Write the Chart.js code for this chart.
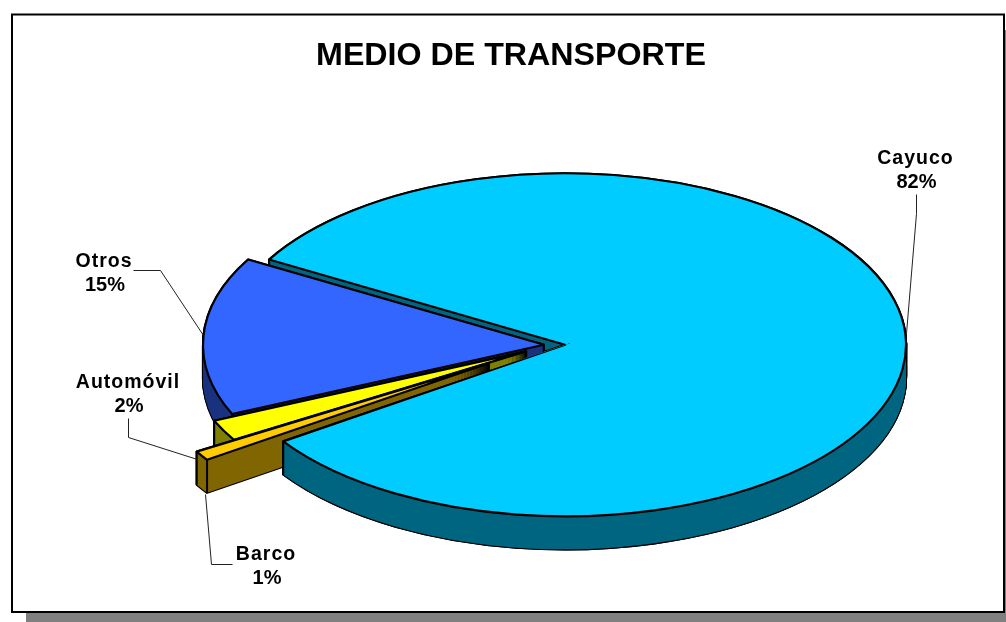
<!DOCTYPE html>
<html><head><meta charset="utf-8">
<style>html,body{margin:0;padding:0;background:#fff;overflow:hidden}canvas{display:block}</style>
<script src="https://cdn.jsdelivr.net/npm/chart.js@4/dist/chart.umd.js"></script>
</head><body><canvas id="c" width="1006" height="622"></canvas>
<script>
const categories = ['Cayuco', 'Barco', 'Automóvil', 'Otros'];
const values = [82.2, 0.9, 2.0, 14.9];
const topColors = ['#00CCFF', '#FFCC00', '#FFFF00', '#3366FF'];
const wallColors = ['#006680', '#806600', '#808000', '#1A3380'];
const explode = [10.5, 78, 32, 10.5];
const lift = [0, -3, -1, 0];
const drawOrder = [0, 3, 2, 1];
const labelBoxes = [
  {x: 915.5, y: 157, line: [[916,194],[916,213],[906,333]]},
  {x: 266, y: 553, line: [[232,564],[211,564],[205,494]]},
  {x: 128, y: 381, line: [[128,418],[128,437],[197,459]]},
  {x: 104, y: 260, line: [[133,270],[160,270],[203,335]]}
];
const PIE = {cx: 554.5, cy: 345, ratio: 0.503, depth: 33, radius: 341};

const pie3d = {
  id: 'pie3d',
  beforeDraw(chart) {
    const c = chart.ctx;
    c.save();
    c.fillStyle = '#808080';
    c.fillRect(26, 30, 980, 592);
    c.fillStyle = '#fff';
    c.fillRect(11, 14, 993, 598);
    c.strokeStyle = '#000';
    c.lineWidth = 2;
    c.strokeRect(12, 14.5, 992, 597.5);
    c.restore();
  },
  beforeDatasetsDraw(chart) {
    const c = chart.ctx, arcs = chart.getDatasetMeta(0).data;
    const geom = i => {
      const a = arcs[i], mid = (a.startAngle + a.endAngle) / 2;
      return {a,
        ax: PIE.cx + explode[i] * Math.cos(mid),
        ay: PIE.cy + lift[i] + explode[i] * Math.sin(mid) * PIE.ratio};
    };
    const path = (g, dy) => {
      c.beginPath();
      c.moveTo(g.ax, g.ay + dy);
      c.ellipse(g.ax, g.ay + dy, g.a.outerRadius, g.a.outerRadius * PIE.ratio, 0, g.a.startAngle, g.a.endAngle);
      c.closePath();
    };
    const fill = (g, dy, color) => {
      const saved = g.a.options;
      g.a.options = {backgroundColor: color, borderColor: color, borderWidth: 0, borderAlign: 'center',
        borderRadius: 0, borderJoinStyle: 'round', offset: 0, spacing: 0, circular: true};
      c.save();
      c.translate(g.ax, g.ay + dy);
      c.scale(1, PIE.ratio);
      c.translate(-g.a.x, -g.a.y);
      g.a.draw(c);
      c.restore();
      g.a.options = saved;
    };
    const slice = i => {
      const g = geom(i), R = g.a.outerRadius;
      c.strokeStyle = '#000';
      c.lineWidth = 2.2;
      c.lineJoin = 'round';
      for (let dy = PIE.depth; dy >= 0; dy--) { path(g, dy); c.stroke(); }
      for (let dy = PIE.depth; dy >= 1; dy--) fill(g, dy, wallColors[i]);
      const pts = [[g.ax, g.ay],
        [g.ax + R * Math.cos(g.a.startAngle), g.ay + R * PIE.ratio * Math.sin(g.a.startAngle)],
        [g.ax + R * Math.cos(g.a.endAngle), g.ay + R * PIE.ratio * Math.sin(g.a.endAngle)]];
      c.lineWidth = 2;
      pts.forEach(p => { c.beginPath(); c.moveTo(p[0], p[1]); c.lineTo(p[0], p[1] + PIE.depth); c.stroke(); });
      fill(g, 0, topColors[i]);
      c.lineWidth = 2.2;
      path(g, 0); c.stroke();
      return pts;
    };
    c.save();
    let first = null;
    drawOrder.forEach(i => { const p = slice(i); if (i === drawOrder[0]) first = p; });
    // front part of the largest slice sits over the others
    const ap = first[0], rim = first[2];
    const topY = Math.round(ap[1]) - 2;
    c.beginPath();
    c.moveTo(ap[0] + 6, topY);
    c.lineTo(rim[0] - 2, rim[1] - 2);
    c.lineTo(Math.round(rim[0]) - 3, 622);
    c.lineTo(1006, 622);
    c.lineTo(1006, topY);
    c.closePath();
    c.clip();
    slice(drawOrder[0]);
    c.restore();

    // leader lines and labels
    c.save();
    c.strokeStyle = '#222';
    c.lineWidth = 1;
    labelBoxes.forEach(b => {
      c.beginPath();
      b.line.forEach((p, k) => k ? c.lineTo(p[0] + .5, p[1] + .5) : c.moveTo(p[0] + .5, p[1] + .5));
      c.stroke();
    });
    c.fillStyle = '#000';
    c.textAlign = 'center';
    c.textBaseline = 'middle';
    labelBoxes.forEach((b, i) => {
      c.font = 'bold 19.5px "Liberation Sans", Arial, sans-serif';
      c.letterSpacing = '1px';
      c.fillText(categories[i], b.x, b.y + 1.5);
      c.font = 'bold 20px "Liberation Sans", Arial, sans-serif';
      c.letterSpacing = '0px';
      c.fillText(Math.round(values[i]) + '%', b.x + 1, b.y + 25.5);
    });
    c.restore();
    return false;
  }
};

new Chart(document.getElementById('c'), {
  type: 'pie',
  data: {labels: categories, datasets: [{data: values, backgroundColor: topColors, borderWidth: 0}]},
  options: {
    responsive: false,
    animation: false,
    events: [],
    rotation: 299.8,
    radius: PIE.radius,
    layout: {padding: {left: 16, right: 0, top: 0, bottom: 0}},
    plugins: {
      legend: {display: false},
      tooltip: {enabled: false},
      title: {display: true, text: 'MEDIO DE TRANSPORTE', color: '#000',
        font: {family: '"Liberation Sans", Arial, sans-serif', size: 32.2, weight: 'bold'},
        padding: {top: 37, bottom: 10}}
    }
  },
  plugins: [pie3d]
});
</script></body></html>
